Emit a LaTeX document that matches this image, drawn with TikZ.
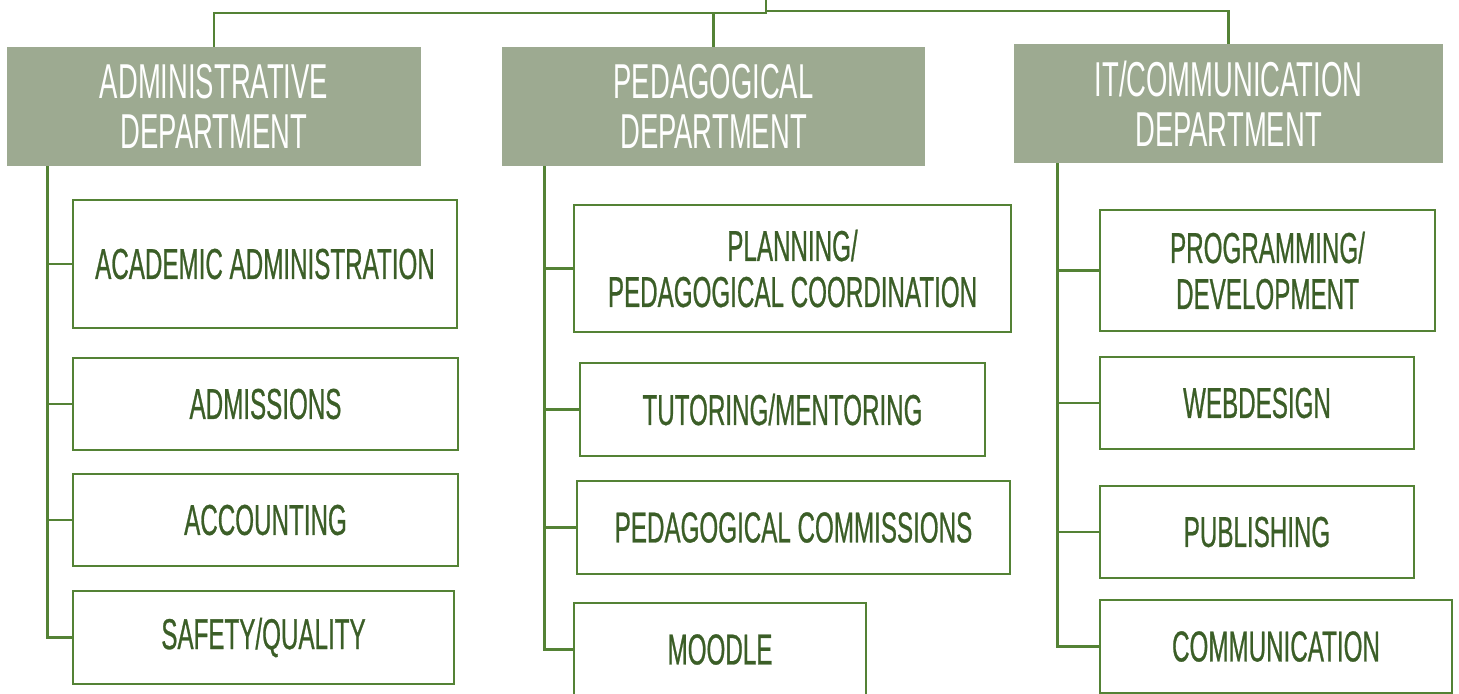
\documentclass[tikz,border=0pt]{standalone}
\usepackage{fontspec}
\setmainfont{Liberation Sans}[FakeStretch=0.56]
\usetikzlibrary{positioning}
\definecolor{deptfill}{HTML}{9DAA91}
\definecolor{linegreen}{HTML}{548235}
\definecolor{txtgreen}{HTML}{3B5E27}

\begin{document}
\begin{tikzpicture}[x=0.5pt, y=-0.5pt,
    dept/.style={fill=deptfill, text=white, inner sep=0pt, align=center,
                 font=\fontsize{24.5}{25}\selectfont, minimum height=59.5pt},
    unit/.style={draw=linegreen, line width=1pt, text=txtgreen, inner sep=0pt,
                 align=center, font=\fontsize{21.6}{23}\selectfont\addfontfeature{FakeBold=0.6}},
    link/.style={draw=linegreen, line width=1.25pt}]

    \useasboundingbox (0,0) rectangle (1459,693);

    % departments
    \node [dept, minimum width=207pt]   (admin) at (214 , 106.5)  {ADMINISTRATIVE\\DEPARTMENT};
    \node [dept, minimum width=211.5pt] (ped)   at (713.5 , 106.5) {PEDAGOGICAL\\DEPARTMENT};
    \node [dept, minimum width=214.5pt] (it)    at (1228.5 , 103.5) {IT/COMMUNICATION\\DEPARTMENT};

    % administrative units
    \node [unit, minimum width=192pt, minimum height=64pt]    (acad) at (265 , 264)   {ACADEMIC ADMINISTRATION};
    \node [unit, minimum width=192.5pt, minimum height=46pt]  (adm)  at (265.5 , 404) {ADMISSIONS};
    \node [unit, minimum width=192.5pt, minimum height=46pt]  (acc)  at (265.5 , 520) {ACCOUNTING};
    \node [unit, minimum width=190.5pt, minimum height=46.5pt] (saf) at (263.5 , 637.5) {SAFETY/QUALITY};

    % pedagogical units
    \node [unit, minimum width=218.5pt, minimum height=63.5pt] (plan) at (792.5 , 268.5) {PLANNING/\\PEDAGOGICAL COORDINATION};
    \node [unit, minimum width=202.5pt, minimum height=46.5pt] (tut)  at (782.5 , 409.5) {TUTORING/MENTORING};
    \node [unit, minimum width=216.5pt, minimum height=46.5pt] (pcom) at (793.5 , 527.5) {PEDAGOGICAL COMMISSIONS};
    \node [unit, minimum width=146pt, minimum height=46.5pt]   (moo)  at (720 , 649.5)   {MOODLE};

    % it units
    \node [unit, minimum width=167.5pt, minimum height=60.5pt] (prog) at (1267.5 , 270.5) {PROGRAMMING/\\DEVELOPMENT};
    \node [unit, minimum width=157pt, minimum height=46pt]     (web)  at (1257 , 403)     {WEBDESIGN};
    \node [unit, minimum width=157pt, minimum height=46pt]     (pub)  at (1257 , 532)     {PUBLISHING};
    \node [unit, minimum width=176pt, minimum height=46.5pt]   (comm) at (1276 , 646.5)   {COMMUNICATION};

    % top connectors
    \coordinate (top) at (766 , 0);
    \draw [link] (top) -- ([yshift=-6.5pt]top) -| (admin.north);
    \draw [link] ([yshift=-6.5pt]top) -| (ped.north);
    \draw [link] ([yshift=-5.5pt]top) -| (it.north);

    % branches
    \foreach \u in {acad, adm, acc, saf}
        \draw [link] ([xshift=20.5pt]admin.south west) |- (\u.west);
    \foreach \u in {plan, tut, pcom, moo}
        \draw [link] ([xshift=21.5pt]ped.south west) |- (\u.west);
    \foreach \u in {prog, web, pub, comm}
        \draw [link] ([xshift=22pt]it.south west) |- (\u.west);
\end{tikzpicture}
\end{document}
